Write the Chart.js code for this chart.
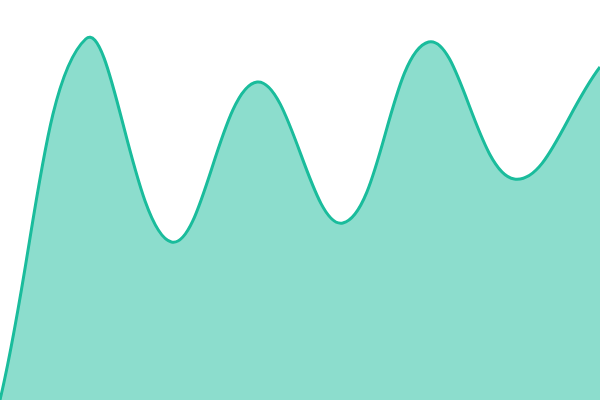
<!DOCTYPE html>
<html>
<head>
<meta charset="utf-8">
<script src="https://cdn.jsdelivr.net/npm/chart.js@4"></script>
<style>
html,body{margin:0;padding:0;background:#fff;}
#wrap{width:600px;height:400px;}
</style>
</head>
<body>
<div id="wrap"><canvas id="c" width="600" height="400"></canvas></div>
<script>
const categories = ["1","2","3","4","5","6","7","8"];
const values = [0, 361, 158, 318, 177, 358, 221, 333];
const yMin = 0, yMax = 400;

new Chart(document.getElementById('c'), {
  type: 'line',
  data: {
    labels: categories,
    datasets: [{
      data: values,
      borderColor: '#1abc9c',
      backgroundColor: 'rgba(26,188,156,0.5)',
      borderWidth: 3,
      fill: 'origin',
      tension: 0.4,
      pointRadius: 0,
      clip: false
    }]
  },
  options: {
    responsive: false,
    animation: false,
    layout: { padding: 0 },
    plugins: { legend: { display: false }, tooltip: { enabled: false } },
    scales: {
      x: { display: false, offset: false },
      y: { display: false, min: yMin, max: yMax }
    }
  }
});
</script>
</body>
</html>
